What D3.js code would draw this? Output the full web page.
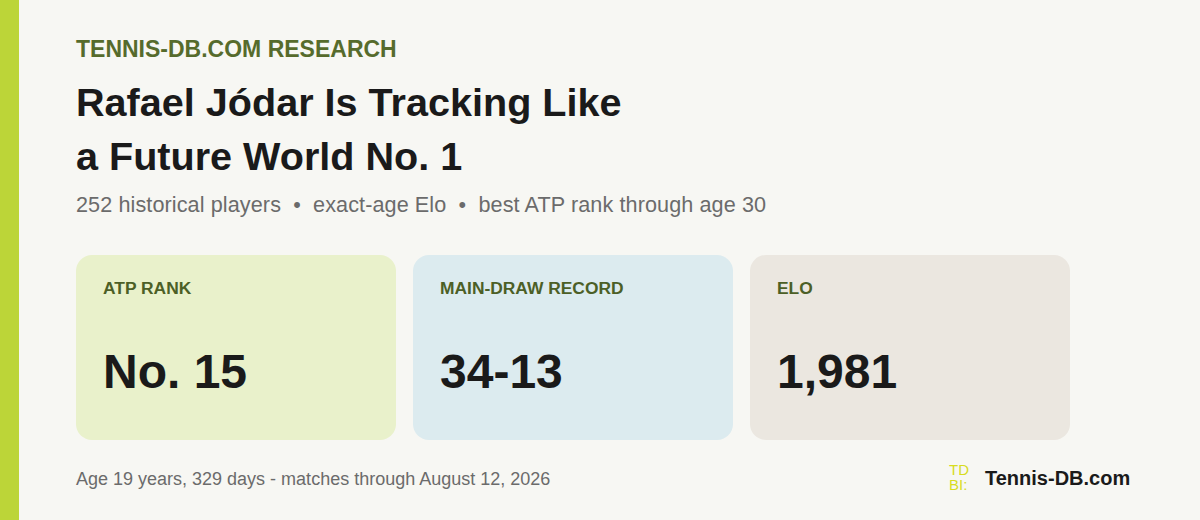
<!DOCTYPE html>
<html>
<head>
<script src="https://d3js.org/d3.v7.min.js"></script>
<style>
  body { margin: 0; font-family: "Liberation Sans", Arial, sans-serif; }
</style>
</head>
<body>
<svg id="card" width="1200" height="520"></svg>
<script>
// Card data
var labels = ["ATP RANK", "MAIN-DRAW RECORD", "ELO"];
var values = ["No. 15", "34-13", "1,981"];
var fills = ["#e9f1cb", "#dcebef", "#ebe7e0"];

var svg = d3.select("#card");
svg.append("rect").attr("width", 1200).attr("height", 520).attr("fill", "#f7f7f3");
svg.append("rect").attr("width", 19).attr("height", 520).attr("fill", "#bcd538");

svg.append("text").text("TENNIS-DB.COM RESEARCH")
  .attr("x", 76).attr("y", 57).attr("font-size", 23).attr("font-weight", "bold").attr("fill", "#566b2c");
svg.append("text").text("Rafael Jódar Is Tracking Like")
  .attr("x", 76).attr("y", 116).attr("font-size", 39.6).attr("font-weight", "bold").attr("fill", "#1a1a1a");
svg.append("text").text("a Future World No. 1")
  .attr("x", 76).attr("y", 170).attr("font-size", 39.6).attr("font-weight", "bold").attr("fill", "#1a1a1a");
svg.append("text").text("252 historical players  •  exact-age Elo  •  best ATP rank through age 30")
  .attr("x", 76).attr("y", 212).attr("font-size", 21.6).attr("fill", "#6b6b6b")
  .attr("textLength", 690).attr("lengthAdjust", "spacing")
  .style("white-space", "pre");

var x = d3.scaleBand().domain(d3.range(labels.length)).range([76, 1087]);

var g = svg.selectAll("g.stat").data(labels).join("g").attr("class", "stat")
  .attr("transform", function(d, i) { return "translate(" + x(i) + ",255)"; });
g.append("rect").attr("width", 320).attr("height", 185).attr("rx", 16)
  .attr("fill", function(d, i) { return fills[i]; });
g.append("text").text(function(d) { return d; })
  .attr("x", 27).attr("y", 39).attr("font-size", 17.4).attr("font-weight", "bold").attr("fill", "#4c5f26");
g.append("text").text(function(d, i) { return values[i]; })
  .attr("x", 27).attr("y", 133).attr("font-size", 48).attr("font-weight", "bold").attr("fill", "#1a1a1a");

svg.append("text").text("Age 19 years, 329 days - matches through August 12, 2026")
  .attr("x", 76).attr("y", 485).attr("font-size", 18).attr("fill", "#6b6b6b");

// logo
var logo = svg.append("g").attr("fill", "#d8dc1e").attr("font-size", 15);
logo.append("text").text("TD").attr("x", 949).attr("y", 475);
logo.append("text").text("BI:").attr("x", 949).attr("y", 490);
svg.append("text").text("Tennis-DB.com")
  .attr("x", 985).attr("y", 485).attr("font-size", 20).attr("font-weight", "bold").attr("fill", "#1a1a1a");
</script>
</body>
</html>
